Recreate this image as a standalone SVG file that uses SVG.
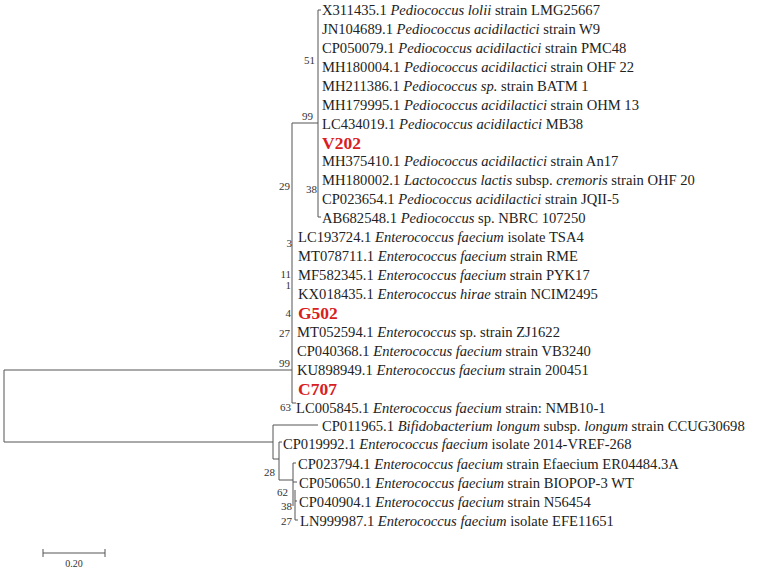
<svg xmlns="http://www.w3.org/2000/svg" width="759" height="570" viewBox="0 0 759 570">
<style>
.e{fill:none;stroke:#555;stroke-width:1}
.t{font-family:"Liberation Serif","Times New Roman",serif;font-size:14.6px;fill:#222}
.i{font-style:italic}
.r{font-family:"Liberation Serif","Times New Roman",serif;font-size:17.5px;font-weight:bold;fill:#d8201e}
.b{font-family:"Liberation Serif","Times New Roman",serif;font-size:11px;fill:#333;text-anchor:end}
.s{font-family:"Liberation Serif","Times New Roman",serif;font-size:10px;fill:#333;text-anchor:middle}
</style>
<rect width="759" height="570" fill="#fff"/>
<g id="connectors">
<path class="e" d="M4 370 V442 M4 370 H292 M292 123 V403 H296 M292 123 H318 M318 10 V217 H321 M318 10 H321"/>
<path class="e" d="M4 442 H273 M273 425 H318 M273 425 V459 H279 M279 442 V480 M279 442 H282 M279 480 H293 M293 463 V506 M293 463 H296 M293 482 H297 M295 490 V520 H298 M295 501 H297"/>
</g>
<g id="support">
<text class="b" x="315" y="64">51</text>
<text class="b" x="313" y="120">99</text>
<text class="b" x="290" y="190">29</text>
<text class="b" x="317" y="193">38</text>
<text class="b" x="292" y="247">3</text>
<text class="b" x="291" y="278">11</text>
<text class="b" x="291" y="289">1</text>
<text class="b" x="291" y="317">4</text>
<text class="b" x="290" y="337">27</text>
<text class="b" x="290" y="367">99</text>
<text class="b" x="291" y="411">63</text>
<text class="b" x="275" y="476">28</text>
<text class="b" x="288" y="496">62</text>
<text class="b" x="292" y="510">38</text>
<text class="b" x="292" y="525">27</text>
</g>
<g id="n01"><text class="t" x="322" y="15">X311435.1 <tspan class="i">Pediococcus lolii</tspan> strain LMG25667</text></g>
<g id="n02"><text class="t" x="322" y="34">JN104689.1 <tspan class="i">Pediococcus acidilactici</tspan> strain W9</text></g>
<g id="n03"><text class="t" x="322" y="53">CP050079.1 <tspan class="i">Pediococcus acidilactici</tspan> strain PMC48</text></g>
<g id="n04"><text class="t" x="322" y="72">MH180004.1 <tspan class="i">Pediococcus acidilactici</tspan> strain OHF 22</text></g>
<g id="n05"><text class="t" x="322" y="90.7">MH211386.1 <tspan class="i">Pediococcus sp.</tspan> strain BATM 1</text></g>
<g id="n06"><text class="t" x="322" y="109.7">MH179995.1 <tspan class="i">Pediococcus acidilactici</tspan> strain OHM 13</text></g>
<g id="n07"><text class="t" x="322" y="128.6">LC434019.1 <tspan class="i">Pediococcus acidilactici</tspan> MB38</text></g>
<g id="V202"><text class="r" x="322" y="148.7">V202</text></g>
<g id="n08"><text class="t" x="322" y="166.4">MH375410.1 <tspan class="i">Pediococcus acidilactici</tspan> strain An17</text></g>
<g id="n09"><text class="t" x="322" y="185.4">MH180002.1 <tspan class="i">Lactococcus lactis</tspan> subsp. <tspan class="i">cremoris</tspan> strain OHF 20</text></g>
<g id="n10"><text class="t" x="322" y="204.3">CP023654.1 <tspan class="i">Pediococcus acidilactici</tspan> strain JQII-5</text></g>
<g id="n11"><text class="t" x="322" y="223.2">AB682548.1 <tspan class="i">Pediococcus</tspan> sp. NBRC 107250</text></g>
<g id="n12"><text class="t" x="298" y="242.2">LC193724.1 <tspan class="i">Enterococcus faecium</tspan> isolate TSA4</text></g>
<g id="n13"><text class="t" x="298" y="261.1">MT078711.1 <tspan class="i">Enterococcus faecium</tspan> strain RME</text></g>
<g id="n14"><text class="t" x="298" y="280">MF582345.1 <tspan class="i">Enterococcus faecium</tspan> strain PYK17</text></g>
<g id="n15"><text class="t" x="298" y="299">KX018435.1 <tspan class="i">Enterococcus hirae</tspan> strain NCIM2495</text></g>
<g id="G502"><text class="r" x="298" y="319.1">G502</text></g>
<g id="n16"><text class="t" x="297" y="336.8">MT052594.1 <tspan class="i">Enterococcus</tspan> sp. strain ZJ1622</text></g>
<g id="n17"><text class="t" x="297" y="355.7">CP040368.1 <tspan class="i">Enterococcus faecium</tspan> strain VB3240</text></g>
<g id="n18"><text class="t" x="297" y="374.7">KU898949.1 <tspan class="i">Enterococcus faecium</tspan> strain 200451</text></g>
<g id="C707"><text class="r" x="298" y="394.8">C707</text></g>
<g id="n19"><text class="t" x="296" y="412.5">LC005845.1 <tspan class="i">Enterococcus faecium</tspan> strain: NMB10-1</text></g>
<g id="n20"><text class="t" x="322" y="430.5">CP011965.1 <tspan class="i">Bifidobacterium longum</tspan> subsp. <tspan class="i">longum</tspan> strain CCUG30698</text></g>
<g id="n21"><text class="t" x="283" y="449">CP019992.1 <tspan class="i">Enterococcus faecium</tspan> isolate 2014-VREF-268</text></g>
<g id="n22"><text class="t" x="298" y="468.5">CP023794.1 <tspan class="i">Enterococcus faecium</tspan> strain Efaecium ER04484.3A</text></g>
<g id="n23"><text class="t" x="299" y="487.8">CP050650.1 <tspan class="i">Enterococcus faecium</tspan> strain BIOPOP-3 WT</text></g>
<g id="n24"><text class="t" x="299" y="507">CP040904.1 <tspan class="i">Enterococcus faecium</tspan> strain N56454</text></g>
<g id="n25"><text class="t" x="300" y="526">LN999987.1 <tspan class="i">Enterococcus faecium</tspan> isolate EFE11651</text></g>
<g id="scale">
<path class="e" d="M43 553 H105 M43 549 V557 M105 549 V557"/>
<text class="s" x="74" y="567">0.20</text>
</g>
</svg>
